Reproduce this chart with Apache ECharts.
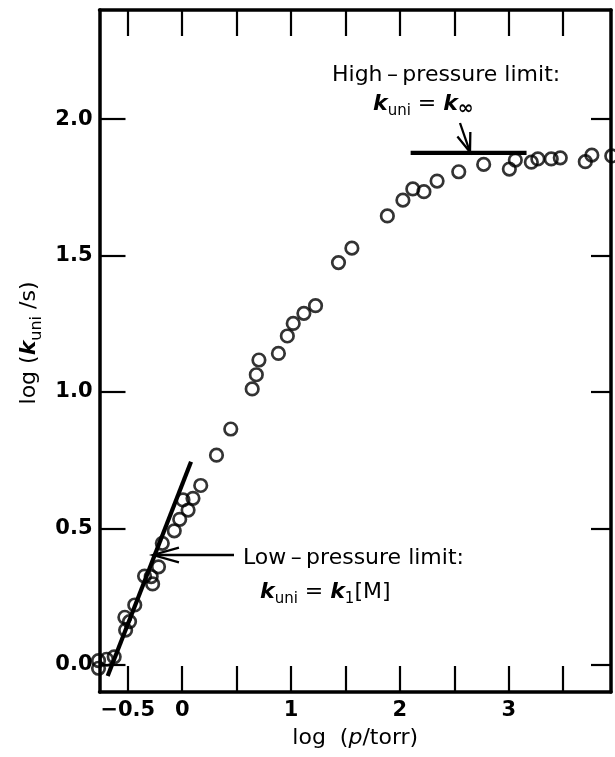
<!DOCTYPE html>
<html>
<head>
<meta charset="utf-8">
<script src="https://cdn.jsdelivr.net/npm/echarts@6/dist/echarts.min.js"></script>
<style>
html,body{margin:0;padding:0;background:#fff;}
#chart{width:615px;height:757px;}
</style>
</head>
<body>
<div id="chart"></div>
<script>
// ---- data ----
const xTickValues = [-0.5, 0, 0.5, 1, 1.5, 2, 2.5, 3, 3.5];
const xLabelValues = [-0.5, 0, 1, 2, 3];
const xLabelTexts = ['\u22120.5', '0', '1', '2', '3'];
const yTickValues = [0, 0.5, 1, 1.5, 2];
const yLabelTexts = ['0.0', '0.5', '1.0', '1.5', '2.0'];

const logP = [-0.769, -0.769, -0.695, -0.625, -0.520, -0.484, -0.527, -0.436, -0.346, -0.285,
  -0.272, -0.218, -0.183, -0.073, -0.023, 0.054, 0.007, 0.099, 0.170, 0.315,
  0.446, 0.643, 0.681, 0.705, 0.884, 0.966, 1.020, 1.118, 1.225, 1.436,
  1.559, 1.885, 2.028, 2.119, 2.221, 2.342, 2.541, 2.770, 3.006, 3.061,
  3.208, 3.268, 3.391, 3.474, 3.704, 3.764, 3.947];
const logK = [0.015, -0.013, 0.020, 0.029, 0.127, 0.158, 0.174, 0.219, 0.325, 0.323,
  0.296, 0.359, 0.445, 0.491, 0.533, 0.567, 0.604, 0.610, 0.657, 0.768,
  0.864, 1.011, 1.063, 1.117, 1.141, 1.205, 1.251, 1.288, 1.316, 1.474,
  1.527, 1.645, 1.703, 1.744, 1.734, 1.773, 1.807, 1.834, 1.817, 1.850,
  1.842, 1.854, 1.854, 1.858, 1.844, 1.868, 1.865];

const lowLimitX = [-0.685, 0.081];
const lowLimitY = [-0.041, 0.744];
const highLimitX = [2.099, 3.164];
const highLimitY = [1.876, 1.876];

// ---- chart ----
const FONT = '"DejaVu Sans", "Liberation Sans", sans-serif';
const chart = echarts.init(document.getElementById('chart'), null, {renderer: 'canvas'});

const axisLineStyle = {color: '#000', width: 3.5};
const tickStyle = {color: '#000', width: 2.2};

const points = logP.map((x, i) => [x, logK[i]]);
const lowLine = lowLimitX.map((x, i) => [x, lowLimitY[i]]);
const highLine = highLimitX.map((x, i) => [x, highLimitY[i]]);

function arrow(from, to, headLen, halfDeg) {
  const dx = from[0] - to[0], dy = from[1] - to[1];
  const L = Math.hypot(dx, dy);
  const ux = dx / L, uy = dy / L;
  const a = halfDeg * Math.PI / 180;
  const c = Math.cos(a), s = Math.sin(a);
  const p1 = [to[0] + headLen * (ux * c - uy * s), to[1] + headLen * (ux * s + uy * c)];
  const p2 = [to[0] + headLen * (ux * c + uy * s), to[1] + headLen * (-ux * s + uy * c)];
  return [
    {type: 'polyline', shape: {points: [from, to]}, style: {stroke: '#000', lineWidth: 2.3, fill: null}, z: 100},
    {type: 'polyline', shape: {points: [p1, to, p2]}, style: {stroke: '#000', lineWidth: 2.3, fill: null}, z: 100}
  ];
}

const richK = {
  k: {fontStyle: 'italic', fontWeight: 'bold', fontSize: 22, lineHeight: 30, fontFamily: FONT, color: '#000'},
  s: {fontSize: 15, lineHeight: 15, verticalAlign: 'bottom', fontFamily: FONT, color: '#000'},
  inf: {fontSize: 19, lineHeight: 17, fontWeight: 'bold', verticalAlign: 'bottom', fontFamily: FONT, color: '#000'},
  n: {fontSize: 22, lineHeight: 30, fontFamily: FONT, color: '#000'}
};

function label(text, x, y, rich) {
  return {
    type: 'text', x: x, y: y, z: 100,
    style: {
      text: text, fill: '#000', fontSize: 22, fontFamily: FONT,
      align: 'left', textAlign: 'left', verticalAlign: 'middle', textVerticalAlign: 'middle',
      rich: rich || undefined
    }
  };
}

const option = {
  animation: false,
  backgroundColor: '#fff',
  grid: {left: 99.5, right: 4, top: 10, bottom: 65, containLabel: false},
  xAxis: [
    {
      type: 'value', position: 'bottom', min: -0.76, max: 3.94,
      axisLine: {show: true, onZero: false, lineStyle: axisLineStyle},
      axisTick: {show: true, inside: true, length: 26, lineStyle: tickStyle, customValues: xTickValues},
      axisLabel: {
        show: true, customValues: xLabelValues, margin: 8,
        fontSize: 21, fontFamily: FONT, fontWeight: 'bold', color: '#000',
        formatter: v => { const i = xLabelValues.indexOf(v); return i >= 0 ? xLabelTexts[i] : ''; }
      },
      splitLine: {show: false},
      name: '{n|log  (}{i|p}{n|/torr)}',
      nameLocation: 'middle', nameGap: 31,
      nameTextStyle: {
        fontSize: 22, fontFamily: FONT, color: '#000',
        rich: {
          n: {fontSize: 22, lineHeight: 30, fontFamily: FONT, color: '#000'},
          i: {fontSize: 22, lineHeight: 30, fontStyle: 'italic', fontFamily: FONT, color: '#000'}
        }
      }
    },
    {
      type: 'value', position: 'top', min: -0.76, max: 3.94,
      axisLine: {show: true, onZero: false, lineStyle: axisLineStyle},
      axisTick: {show: true, inside: true, length: 26, lineStyle: tickStyle, customValues: xTickValues},
      axisLabel: {show: false},
      splitLine: {show: false}
    }
  ],
  yAxis: [
    {
      type: 'value', position: 'left', min: -0.1, max: 2.4,
      axisLine: {show: true, onZero: false, lineStyle: axisLineStyle},
      axisTick: {show: true, inside: true, length: 26, lineStyle: tickStyle, customValues: yTickValues},
      axisLabel: {
        show: true, customValues: yTickValues, margin: 7,
        fontSize: 21, fontFamily: FONT, fontWeight: 'bold', color: '#000',
        formatter: v => { const i = yTickValues.indexOf(v); return i >= 0 ? yLabelTexts[i] : ''; }
      },
      splitLine: {show: false},
      name: '{n|log (}{k|k}{s|uni}{n| /s)}',
      nameLocation: 'middle', nameGap: 54,
      nameTextStyle: {
        fontSize: 22, fontFamily: FONT, color: '#000', padding: [0, 0, 0, 16],
        rich: {
          n: {fontSize: 22, lineHeight: 30, fontFamily: FONT, color: '#000'},
          k: {fontSize: 22, lineHeight: 30, fontStyle: 'italic', fontWeight: 'bold', fontFamily: FONT, color: '#000'},
          s: {fontSize: 16, lineHeight: 15, verticalAlign: 'bottom', fontFamily: FONT, color: '#000'}
        }
      }
    },
    {
      type: 'value', position: 'right', min: -0.1, max: 2.4,
      axisLine: {show: true, onZero: false, lineStyle: axisLineStyle},
      axisTick: {show: true, inside: true, length: 20, lineStyle: tickStyle, customValues: yTickValues},
      axisLabel: {show: false},
      splitLine: {show: false}
    }
  ],
  series: [
    {
      type: 'line', xAxisIndex: 0, yAxisIndex: 0, data: lowLine,
      symbol: 'none', lineStyle: {color: '#000', width: 4.2}, z: 3, silent: true
    },
    {
      type: 'line', xAxisIndex: 0, yAxisIndex: 0, data: highLine,
      symbol: 'none', lineStyle: {color: '#000', width: 4.2}, z: 3, silent: true
    },
    {
      type: 'scatter', xAxisIndex: 0, yAxisIndex: 0, data: points, clip: false,
      symbol: 'circle', symbolSize: 12.5,
      itemStyle: {color: 'rgba(0,0,0,0)', borderColor: '#000', borderWidth: 2.7},
      z: 4, silent: true
    }
  ],
  graphic: [].concat(
    [label('High\u2009\u2013\u2009pressure limit:', 332, 75)],
    [label('{k|k}{s|uni}{n| = }{k|k}{inf|\u221e}', 373, 104, richK)],
    arrow([460, 123], [470, 152], 20, 20),
    [label('Low\u2009\u2013\u2009pressure limit:', 243, 558)],
    [label('{k|k}{s|uni}{n| = }{k|k}{s|1}{n|[M]}', 260, 592, richK)],
    arrow([234, 555], [153, 555], 27, 16)
  )
};
chart.setOption(option);
</script>
</body>
</html>
